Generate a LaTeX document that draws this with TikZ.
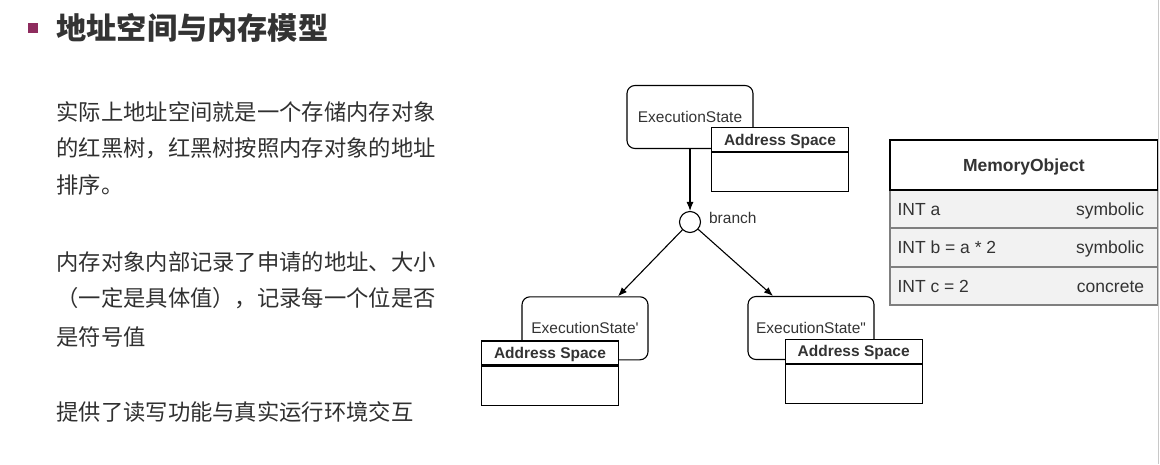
\documentclass[tikz,border=0pt]{standalone}
\usepackage{fontspec}
\setmainfont{Liberation Sans}
\newfontfamily\cjk{Noto Sans CJK SC}
\usetikzlibrary{arrows.meta,positioning}

\definecolor{inkgray}{HTML}{333333}
\definecolor{bodygray}{HTML}{303030}
\definecolor{bulletred}{HTML}{8E2C5E}
\definecolor{rowgray}{HTML}{F2F2F2}
\definecolor{rowline}{HTML}{7F7F7F}
\definecolor{edgegray}{HTML}{C8C8C8}

\begin{document}
\begin{tikzpicture}[x=1pt, y=-1pt, >={Latex[length=9pt,width=7pt]}, line width=1.1pt,
  label/.style={text=inkgray, inner sep=0pt, text height=11.2pt, text depth=0pt,
    font=\fontsize{15.5}{18}\selectfont},
  state/.style={draw, rounded corners=8pt, minimum width=126pt, minimum height=63pt, label},
  ashead/.style={draw, fill=white, minimum width=137pt, minimum height=24pt,
    label, font=\fontsize{15.5}{18}\selectfont\bfseries},
  asbody/.style={draw, fill=white, minimum width=137pt, minimum height=39pt, inner sep=0pt},
  rowbox/.style={draw=rowline, fill=rowgray, line width=2pt, minimum width=267.7pt,
    minimum height=38.3pt, inner sep=0pt},
  cell/.style={text=inkgray, inner sep=0pt, text height=12.6pt, text depth=0pt,
    font=\fontsize{17.5}{20}\selectfont},
  bodytext/.style={text=bodygray, inner sep=0pt, anchor=base west,
    font=\cjk\fontsize{22.3}{26}\selectfont}]

\useasboundingbox (0,0) rectangle (1160,464);

% title
\fill[bulletred] (27.7,22.7) rectangle (38.3,33.3);
\node[text=inkgray, inner sep=0pt, anchor=base west,
  font=\cjk\bfseries\fontsize{30.2}{32}\selectfont] (title) at (56,39.8) {地址空间与内存模型};

% text on the left
\foreach \y/\t [count=\i] in {
  120/实际上地址空间就是一个存储内存对象,
  156.5/的红黑树，红黑树按照内存对象的地址,
  193.5/排序。,
  270.5/内存对象内部记录了申请的地址、大小,
  306.5/（一定是具体值），记录每一个位是否,
  345.5/是符号值,
  420.5/提供了读写功能与真实运行环境交互}
  \node[bodytext] (ln\i) at (56,\y) {\t};

% states
\node[state] (es0) at (690,117) {ExecutionState};
\node[ashead] (as0h) at (780,139.7) {Address Space};
\node[asbody, below=0pt of as0h] (as0b) {};

\node[draw, circle, minimum size=21pt, inner sep=0pt] (br) at (690,222) {};
\node[label, right=7.5pt of br, yshift=4pt] (brlbl) {branch};

\node[state] (es1) at (585,328.3) {ExecutionState\textquotesingle};
\node[ashead] (as1h) at (550,353) {Address Space};
\node[asbody, below=0pt of as1h] (as1b) {};

\node[state] (es2) at (811,328) {ExecutionState\textquotedbl};
\node[ashead] (as2h) at (853.7,351.2) {Address Space};
\node[asbody, below=0pt of as2h] (as2b) {};

\draw[->] (es0) -- (br);
\draw[->] (br) -- ([xshift=33pt]es1.north);
\draw[->] (br) -- ([xshift=-38pt]es2.north);

% memory object
\foreach \l/\r [count=\i] in {INT a/symbolic, INT b = a * 2/symbolic, INT c = 2/concrete}{
  \node[rowbox] (r\i) at (1023.8,171+38.3*\i) {};
  \node[cell, anchor=west] (r\i l) at ([xshift=8pt]r\i.west) {\l};
  \node[cell, anchor=east] (r\i r) at ([xshift=-14pt]r\i.east) {\r};
}
\node[draw, fill=white, line width=2pt, minimum width=267.7pt, minimum height=50pt,
  cell, font=\fontsize{17.5}{20}\selectfont\bfseries] (mo) at (1023.8,165) {MemoryObject};

\draw[edgegray, line width=1pt] (1158.5,0) -- (1158.5,464);

\end{tikzpicture}
\end{document}
